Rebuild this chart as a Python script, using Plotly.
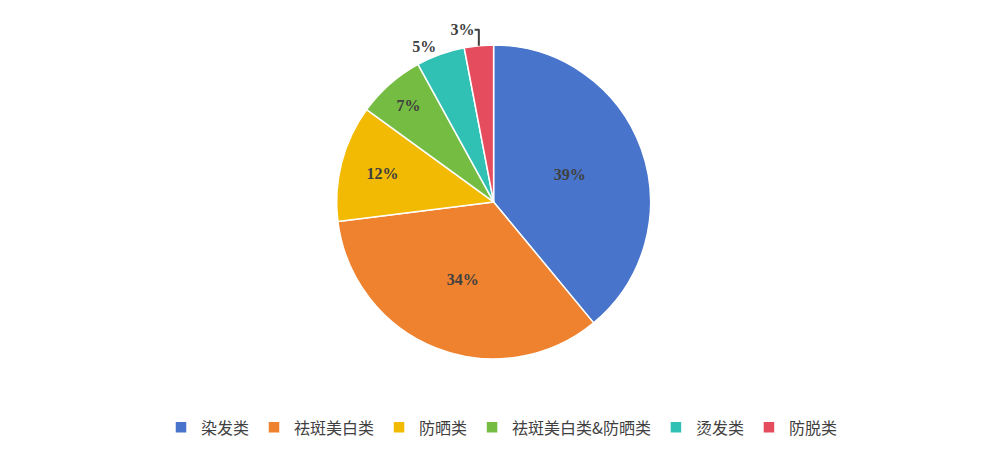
import plotly.graph_objects as go

categories = ["染发类", "祛斑美白类", "防晒类", "祛斑美白类&防晒类", "烫发类", "防脱类"]
shares = [39, 34, 12, 7, 5, 3]
colors = ["#4874CB", "#EE822F", "#F2BA02", "#75BD42", "#30C0B4", "#E54C5E"]
positions = ["inside", "inside", "inside", "inside", "outside", "outside"]

fig = go.Figure(go.Pie(
    labels=categories,
    values=shares,
    sort=False,
    direction="clockwise",
    rotation=0,
    marker={"colors": colors, "line": {"color": "white", "width": 1.5}},
    texttemplate="<b>%{value}%</b>",
    textposition=positions,
    insidetextorientation="horizontal",
    textfont={"family": "Liberation Serif", "size": 16, "color": "#404040"},
    domain={"x": [0.192, 0.792], "y": [0.222, 0.918]},
))
fig.update_layout(
    width=987,
    height=451,
    margin={"l": 0, "r": 0, "t": 0, "b": 0},
    paper_bgcolor="white",
    showlegend=True,
    legend={
        "orientation": "h",
        "x": 0.5,
        "xanchor": "center",
        "y": 0.07,
        "yanchor": "middle",
        "font": {"family": "Noto Sans CJK SC", "size": 16, "color": "#404040"},
    },
)
fig.write_html("out.html")
